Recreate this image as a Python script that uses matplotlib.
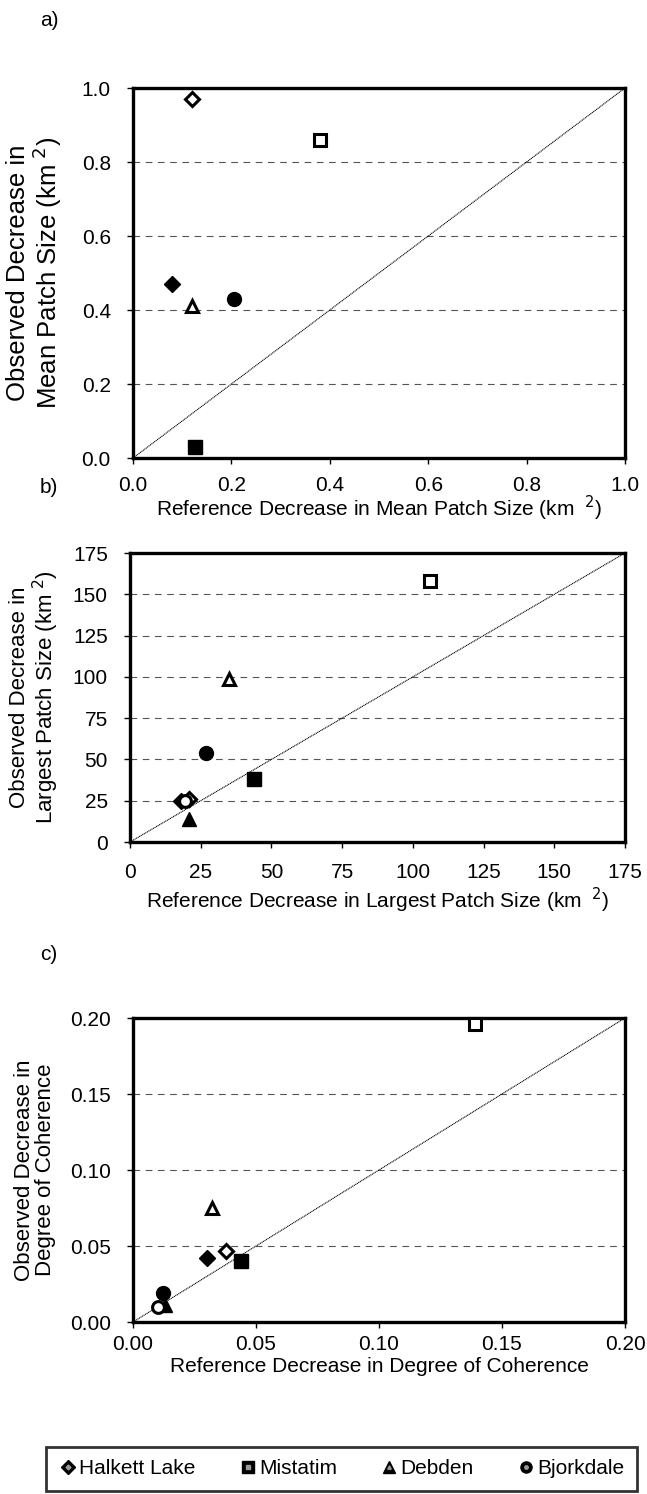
import matplotlib
matplotlib.use("Agg")
import matplotlib.pyplot as plt
from matplotlib.lines import Line2D

plt.rcParams['font.family'] = ['Liberation Sans', 'DejaVu Sans']

sites = ['Halkett Lake', 'Mistatim', 'Debden', 'Bjorkdale']
markers = {'Halkett Lake': 'D', 'Mistatim': 's', 'Debden': '^', 'Bjorkdale': 'o'}

# (reference, observed) pairs; filled and open symbols per site
mps_filled = {'Halkett Lake': (0.08, 0.47), 'Mistatim': (0.125, 0.03),
              'Bjorkdale': (0.205, 0.43)}
mps_open = {'Halkett Lake': (0.12, 0.97), 'Mistatim': (0.38, 0.86),
            'Debden': (0.12, 0.41)}

lps_filled = {'Halkett Lake': (18, 25), 'Mistatim': (44, 38),
              'Debden': (21, 14), 'Bjorkdale': (27, 54)}
lps_open = {'Halkett Lake': (21, 26), 'Mistatim': (106, 158),
            'Debden': (35, 99), 'Bjorkdale': (19.5, 25)}

coh_filled = {'Halkett Lake': (0.030, 0.042), 'Mistatim': (0.044, 0.040),
              'Debden': (0.013, 0.011), 'Bjorkdale': (0.012, 0.019)}
coh_open = {'Halkett Lake': (0.038, 0.047), 'Mistatim': (0.139, 0.196),
            'Debden': (0.032, 0.075), 'Bjorkdale': (0.010, 0.010)}

panels = [
    ('a)', mps_filled, mps_open, 1.0, [0.0, 0.2, 0.4, 0.6, 0.8, 1.0], '%.1f',
     'Observed Decrease in\nMean Patch Size (km$^{\\ 2}$)',
     'Reference Decrease in Mean Patch Size (km $^{\\ 2}$)'),
    ('b)', lps_filled, lps_open, 175, [0, 25, 50, 75, 100, 125, 150, 175], '%d',
     'Observed Decrease in\nLargest Patch Size (km$^{\\ 2}$)',
     'Reference Decrease in Largest Patch Size (km $^{\\ 2}$)'),
    ('c)', coh_filled, coh_open, 0.20, [0.0, 0.05, 0.10, 0.15, 0.20], '%.2f',
     'Observed Decrease in\nDegree of Coherence',
     'Reference Decrease in Degree of Coherence'),
]

FS = 15
fig = plt.figure(figsize=(6.47, 14.94), dpi=100)
W, H = 647.0, 1494.0
boxes = [(133, 88, 625, 458), (130, 553, 625, 842), (133, 1018, 625, 1322)]
tag_y = [20, 487, 955]
xlab_y = [508, 900, 1366]
xtick_pad = [9, 11, 5]
ylab_fs = [18.5, 16, 16]

for i, (tag, filled, opened, lim, ticks, fmt, ylab, xlab) in enumerate(panels):
    x0, y0, x1, y1 = boxes[i]
    ax = fig.add_axes([x0 / W, 1 - y1 / H, (x1 - x0) / W, (y1 - y0) / H])
    ax.set_xlim(0, lim)
    ax.set_ylim(0, lim)
    ax.set_xticks(ticks)
    ax.set_yticks(ticks)
    ax.set_xticklabels([fmt % t for t in ticks])
    ax.set_yticklabels([fmt % t for t in ticks])
    ax.tick_params(direction='out', length=4, width=1, labelsize=FS)
    ax.tick_params(axis='y', pad=12)
    ax.tick_params(axis='x', pad=xtick_pad[i])
    for t in ticks[1:-1]:
        ax.axhline(t, color='#555555', lw=0.8, ls=(0, (6, 5)), zorder=1)
    ax.plot([0, lim], [0, lim], color='black', lw=0.8, ls=(0, (1, 0.6)), zorder=2)
    for s in sites:
        m = markers[s]
        ms = 8.5 if m == 'D' else 10
        if s in filled:
            ax.plot(*filled[s], marker=m, ms=ms, color='black', ls='none',
                    zorder=4, clip_on=False)
        if s in opened:
            ax.plot(*opened[s], marker=m, ms=ms - 1.5, mfc='white', mec='black',
                    mew=2.2, ls='none', zorder=5, clip_on=False)
    for sp in ax.spines.values():
        sp.set_linewidth(2.4)
    fig.text(35 / W, 1 - (y0 + y1) / 2 / H, ylab, rotation=90, fontsize=ylab_fs[i],
             ha='center', va='center', linespacing=1.0, multialignment='center')
    fig.text((x0 + x1) / 2 / W, 1 - xlab_y[i] / H, xlab, fontsize=FS,
             ha='center', va='center')
    fig.text(40 / W, 1 - tag_y[i] / H, tag, fontsize=FS, va='center')

# legend with patterned symbols
handles = []
for s in sites:
    m = markers[s]
    outer = Line2D([], [], marker=m, ms=7 if m == 'D' else 8, color='black', ls='none')
    inner = Line2D([], [], marker=m, ms=2.5, color='#999999', ls='none')
    handles.append((outer, inner))
leg = fig.legend(handles, sites, loc='center', ncol=4, mode='expand',
                 bbox_to_anchor=(46 / W, 1 - 1490 / H, 591 / W, 43 / H),
                 fontsize=FS, frameon=True, fancybox=False, handletextpad=0.1,
                 handlelength=0.9, borderpad=0.6, borderaxespad=0)
leg.get_frame().set_edgecolor('black')
leg.get_frame().set_linewidth(2)

fig.savefig('out.png', dpi=100)
